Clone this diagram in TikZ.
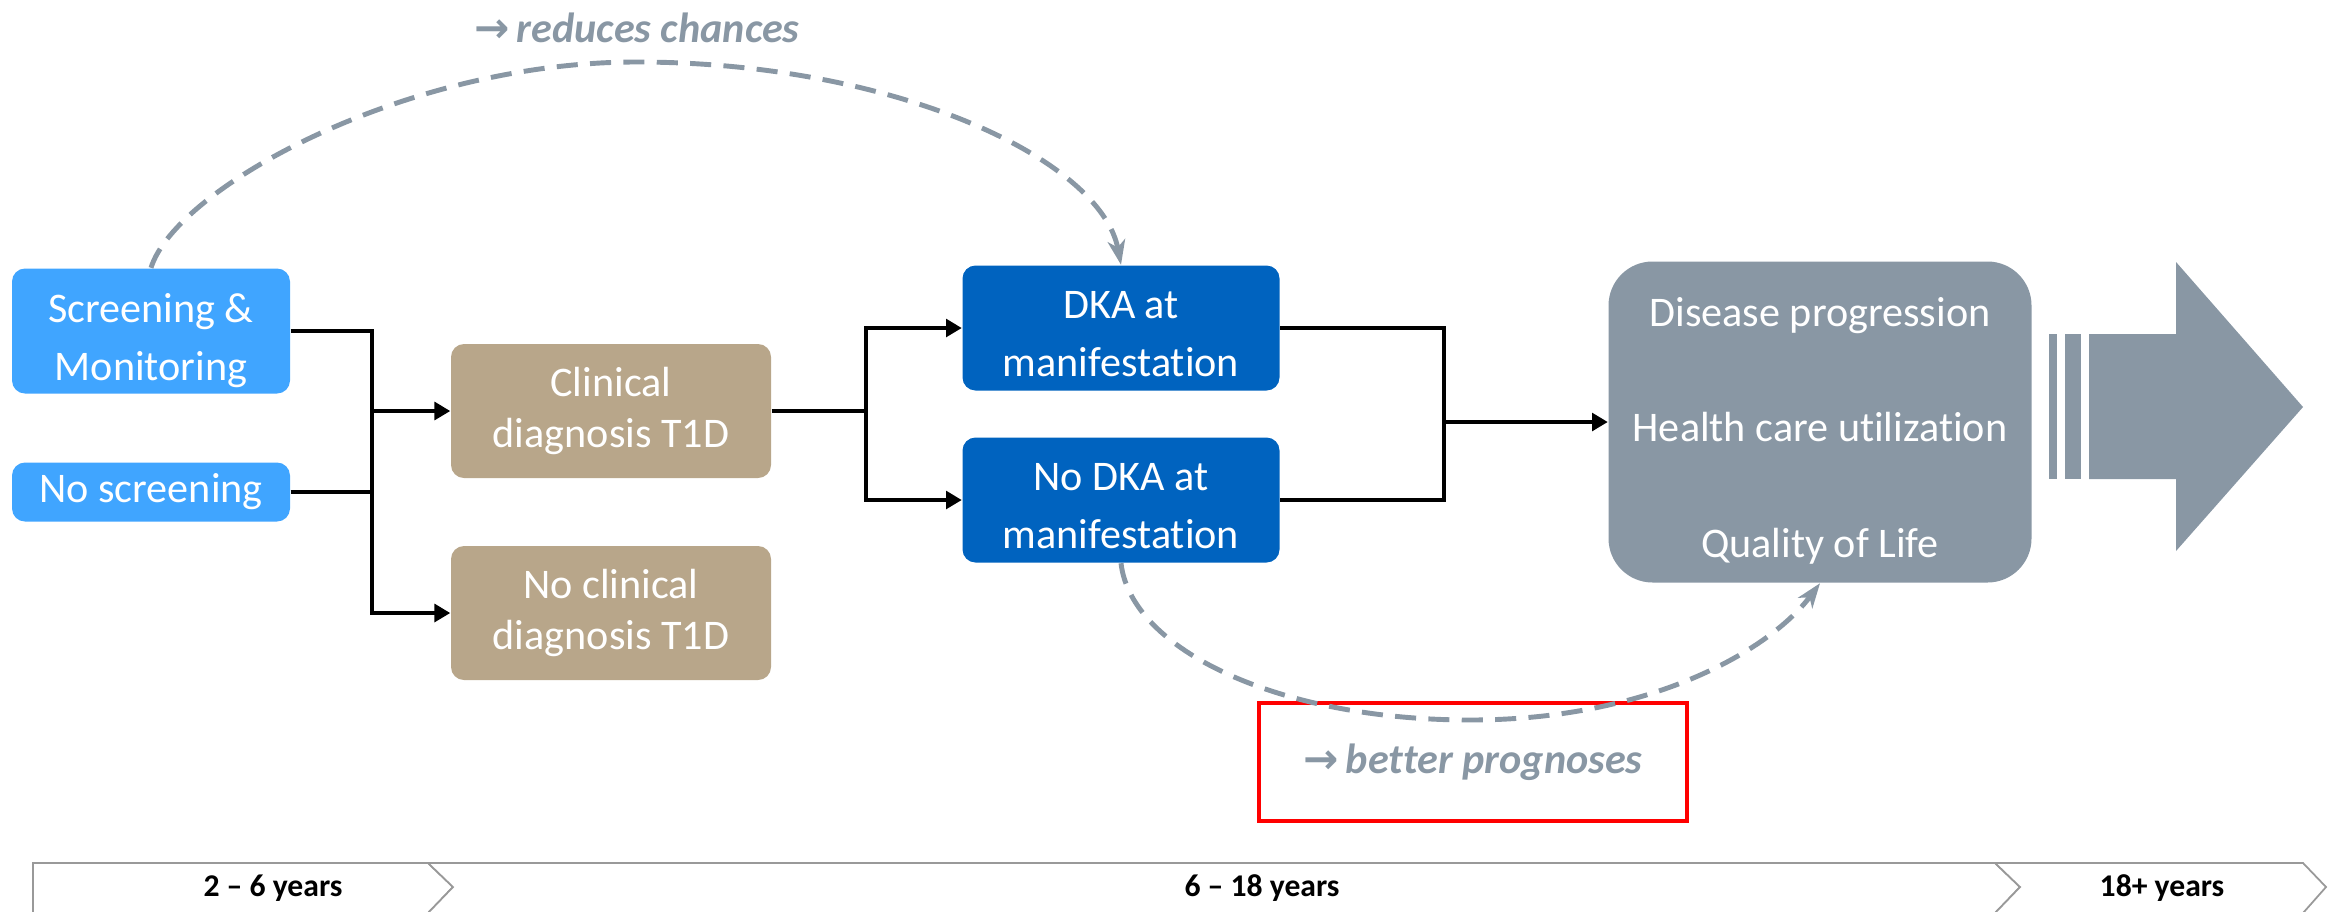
\documentclass[tikz,border=0pt]{standalone}
\usepackage{fontspec}
\setmainfont{Carlito}[Ligatures={TeX,NoCommon}]
\newfontfamily\arrowfont{DejaVu Sans}
\usetikzlibrary{arrows.meta,positioning}
\definecolor{screenblue}{RGB}{64,165,255}
\definecolor{dkablue}{RGB}{0,99,191}
\definecolor{diagtan}{RGB}{184,166,138}
\definecolor{slate}{RGB}{137,151,164}
% invisible strut on the first line, pushes the text a bit down
\newcommand\lift[1]{\rule{0pt}{#1}}
\tikzset{
    box/.style = {
        rounded corners=1.3mm,
        text=white,
        align=center,
        inner sep=0pt,
        font=\fontsize{12pt}{16.5pt}\selectfont,
        },
    screen box/.style = {
        box,
        fill=screenblue,
        minimum width=27.8mm,
        },
    diag box/.style = {
        box,
        fill=diagtan,
        minimum width=32mm,
        minimum height=13.4mm,
        font=\fontsize{12pt}{14.5pt}\selectfont,
        },
    dka box/.style = {
        box,
        fill=dkablue,
        minimum width=31.7mm,
        minimum height=12.5mm,
        },
    flow/.style = {
        draw=black,
        line width=1.2pt,
        },
    flow arrow/.style = {
        flow,
        -{Triangle[length=4.5pt,width=5pt]},
        },
    effect/.style = {
        draw=slate,
        line width=1.4pt,
        dash pattern=on 6pt off 3.5pt,
        -{Stealth[length=7pt,width=5pt,inset=2pt]},
        },
    effect label/.style = {
        text=slate,
        font=\fontsize{12pt}{14pt}\selectfont\bfseries\itshape,
        },
    span/.style = {
        draw=gray!80,
        line width=0.5pt,
        fill=white,
        },
    span label/.style = {
        font=\fontsize{9pt}{11pt}\selectfont\bfseries,
        anchor=base,
        },
}

\begin{document}
\begin{tikzpicture}[x=0.1mm, y=-0.1mm]
    \useasboundingbox (0,0) rectangle (2334,911);

    % boxes
    \node[screen box, minimum height=12.5mm] (scr) at (151,331) {\lift{14pt}Screening \&\\Monitoring};
    \node[screen box, minimum height=5.9mm] (nos) at (151,492) {No screening};
    \node[diag box] (cli) at (611,411) {Clinical\\diagnosis T1D};
    \node[diag box] (ncl) at (611,613) {No clinical\\diagnosis T1D};
    \node[dka box] (dka) at (1121,328) {\lift{11.3pt}DKA at\\manifestation};
    \node[dka box] (nodka) at (1121,500) {\lift{11.3pt}No DKA at\\manifestation};
    \node[box, fill=slate, rounded corners=4.4mm, minimum width=42.3mm, minimum height=32.1mm,
          font=\fontsize{12pt}{33pt}\selectfont] (res) at (1820,422)
          {\lift{13.3pt}Disease progression\\Health care utilization\\Quality of Life};

    % connectors
    \coordinate (j1) at (372,0);
    \coordinate (j2) at (866,0);
    \coordinate (j3) at (1444,0);
    \draw[flow arrow] (scr.east) -- (scr.east -| j1) |- (ncl.west);
    \draw[flow] (nos.east) -- (nos.east -| j1);
    \draw[flow arrow] (j1 |- cli.west) -- (cli.west);
    \draw[flow] (cli.east) -- (cli.east -| j2);
    \draw[flow arrow] (cli.east -| j2) |- (dka.west);
    \draw[flow arrow] (cli.east -| j2) |- (nodka.west);
    \draw[flow] (dka.east) -| (j3 |- nodka.east) -- (nodka.east);
    \draw[flow arrow] (j3 |- res.west) -- (res.west);

    % big arrow
    \fill[slate] (2049,334) rectangle (2057,479);
    \fill[slate] (2065,334) rectangle (2081,479);
    \fill[slate] (2089,334) -- (2176,334) -- (2176,262) -- (2303,407)
        -- (2176,551) -- (2176,479) -- (2089,479) -- cycle;

    % effects
    \node[effect label, anchor=base] (redu) at (637,42) {{\arrowfont →}\,reduces chances};
    \node[effect label, draw=red, line width=1.2pt, minimum width=42.8mm, minimum height=11.8mm]
        (prog) at (1473,762) {{\arrowfont →}\,better prognoses};
    \coordinate (top) at (636,62);
    \coordinate (low) at (1470,720);
    \draw[effect] (scr.north) .. controls +(25,-80) and +(-230,0) .. (top)
        .. controls +(260,0) and +(-20,-105) .. (dka.north);
    \draw[effect] (nodka.south) .. controls +(10,87) and +(-190,0) .. (low)
        .. controls +(180,0) and +(-50,67) .. (res.south);

    % time line
    \draw[span] (33,863) -- (428,863) -- (453,887) -- (428,913) -- (33,913) -- cycle;
    \draw[span] (428,863) -- (1995,863) -- (2020,887) -- (1995,913) -- (428,913) -- (453,887) -- cycle;
    \draw[span] (1995,863) -- (2303,863) -- (2326,887) -- (2303,913) -- (1995,913) -- (2020,887) -- cycle;
    \node[span label] (t1) at (273,896) {2 -- 6 years};
    \node[span label] (t2) at (1262,896) {6 -- 18 years};
    \node[span label] (t3) at (2162,896) {18+ years};
\end{tikzpicture}
\end{document}
